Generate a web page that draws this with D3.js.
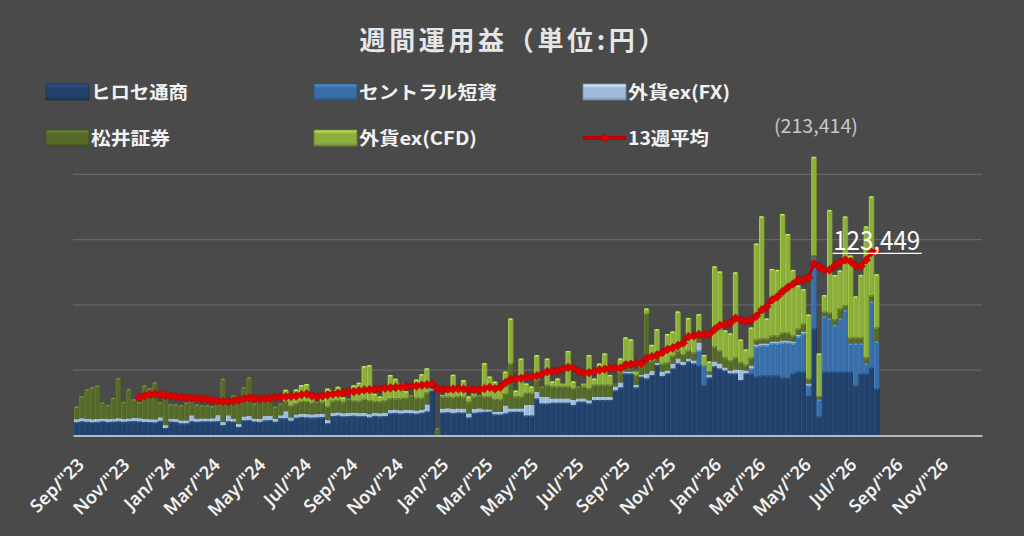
<!DOCTYPE html>
<html>
<head>
<meta charset="utf-8">
<script src="https://cdn.jsdelivr.net/npm/d3@7"></script>
<style>
  html, body { margin: 0; padding: 0; background: #4a4a4a; }
  svg { display: block; font-family: "Noto Sans CJK JP", "Noto Sans", sans-serif; }
</style>
</head>
<body>
<div id="chart"></div>
<script>
// 週間運用益 — 値は千円単位、週ごと (1本目 = 2023/08/27 の週)
const firstWeek = new Date(2023, 7, 27)

const hirose = [
  10.2, 10.8, 10.5, 10.1, 10.4, 10.9, 10.3, 10.6, 10.8, 10.5, 10.8, 11.0, 10.7, 10.4, 10.3, 10.0, 11.2, 5.7, 10.6, 10.4,
  9.3, 9.3, 10.9, 10.5, 10.8, 10.8, 10.7, 11.0, 8.0, 10.9, 10.6, 6.5, 11.5, 11.8, 10.7, 10.4, 11.5, 11.8, 10.5,
  13.2, 13.2, 11.3, 13.6, 14.2, 13.9, 13.7, 13.9, 14.1, 9.3, 14.9, 15.2, 14.6, 14.9, 15.1, 14.7, 14.9, 13.9, 15.0, 14.6,
  14.9, 17.0, 17.3, 16.8, 17.2, 17.0, 16.7, 17.4, 18.4, 34.5, 0, 17.5, 17.8, 17.2, 17.6, 17.5, 13.8, 17.3, 17.7,
  18.2, 18.2, 16.1, 16.1, 16.9, 18.2, 18.2, 18.2, 15.3, 15.3, 28.3, 24.5, 24.5, 25.1, 25.1, 25.1, 25.1, 23.4, 25.9, 25.9,
  24.5, 27.2, 27.2, 27.2, 27.2, 34.5, 36.8, 47.5, 47.5, 36.8, 45.0, 43.7, 46.3, 54.0, 45.6, 47.5, 51.3, 55.2,
  54.0, 56.7, 55.2, 53.6, 38.7, 44.4, 52.9, 51.3, 49.8, 47.5, 47.5, 42.5, 47.5, 47.5, 45.2, 46.0, 46.0, 46.0, 46.0, 44.4,
  44.4, 47.5, 49.0, 49.0, 30.6, 82.0, 14.6, 49.0, 49.0, 49.0, 49.0, 49.0, 49.0, 38.3, 47.5, 47.5, 52.1, 36.0
]
const central = [
  0, 0, 0, 0, 0, 0, 0, 0, 0, 0, 0, 0, 0, 0, 0, 0, 0, 0, 0, 0,
  0, 0, 0, 0, 0, 0, 0, 0, 0, 0, 0, 0, 0, 0, 0, 0, 0, 0, 0,
  0, 0, 0, 0, 0, 0, 0, 0, 0, 0, 0, 0, 0, 0, 0, 0, 0, 0, 0, 0,
  0, 0, 0, 0, 0, 0, 0, 0, 0, 0, 0, 0, 0, 0, 0, 0, 0, 0, 0,
  0, 0, 0, 0, 0, 0, 0, 0, 0, 0, 0, 0, 0, 0, 0, 0, 0, 0, 0, 0,
  0, 0, 0, 0, 0, 0, 0, 0, 0, 0, 0, 0, 0, 0, 0, 0, 0, 0,
  0, 0, 0, 11.5, 15.3, 0, 0, 0, 0, 0, 0, 0, 0, 3.8, 23.0, 23.0, 23.0, 24.5, 24.5, 26.8,
  26.8, 23.0, 26.8, 29.1, 7.7, 53.6, 13.0, 42.1, 40.6, 35.6, 40.6, 47.1, 21.4, 32.2, 23.0, 7.7, 50.6, 36.0
]
const fxex = [
  2.3, 2.5, 2.2, 2.4, 2.3, 2.1, 2.4, 2.3, 2.5, 2.2, 2.3, 2.4, 2.6, 2.3, 2.2, 2.4, 2.8, 2.3, 2.3, 2.2,
  2.3, 2.3, 4.6, 2.4, 2.3, 2.2, 2.5, 4.6, 2.3, 4.6, 2.3, 2.3, 3.1, 3.1, 2.3, 2.4, 3.4, 3.4, 2.3,
  2.3, 5.4, 2.5, 2.5, 2.5, 2.5, 2.5, 2.5, 2.5, 2.5, 2.5, 2.5, 2.5, 2.5, 2.5, 2.5, 2.5, 2.5, 2.5, 2.5,
  2.5, 2.5, 2.5, 2.5, 2.5, 2.5, 2.5, 2.5, 5.4, 1.1, 0, 3.1, 3.1, 3.1, 3.1, 3.1, 3.1, 3.1, 3.1,
  1.8, 1.8, 1.9, 1.9, 6.1, 2.5, 2.5, 2.5, 8.2, 8.2, 5.1, 5.1, 5.1, 3.3, 3.3, 3.3, 3.3, 3.8, 2.5, 2.5,
  2.5, 2.5, 2.5, 2.5, 2.5, 3.1, 3.8, 1.5, 1.5, 1.9, 1.5, 3.8, 3.1, 1.5, 3.4, 2.3, 3.8, 3.8,
  2.3, 2.3, 2.3, 6.1, 0, 2.3, 3.8, 3.8, 2.3, 2.3, 3.1, 7.7, 2.3, 2.3, 1.5, 1.5, 1.5, 1.5, 1.5, 1.5,
  1.5, 1.5, 1.5, 1.5, 1.5, 0, 0, 0, 0, 0, 0, 0, 0, 0, 0, 0, 0, 0
]
const matsui = [
  9.7, 16.9, 22.5, 24.5, 25.6, 12.3, 10.7, 15.9, 30.6, 13.0, 22.5, 14.3, 12.4, 25.6, 23.7, 28.3, 11.3, 25.3, 11.3, 11.3,
  11.7, 13.6, 10.9, 10.9, 10.1, 10.1, 9.3, 8.6, 33.2, 10.9, 17.8, 17.2, 22.4, 29.7, 11.5, 13.9, 13.4, 14.8, 9.3,
  9.0, 7.7, 9.2, 8.8, 9.6, 10.0, 9.0, 9.6, 9.2, 10.7, 9.2, 9.5, 8.9, 10.9, 9.2, 9.4, 10.7, 10.7, 9.0, 9.2,
  9.6, 9.2, 8.7, 9.3, 9.2, 11.5, 9.8, 9.0, 9.2, 0, 5.4, 9.2, 8.9, 9.2, 9.5, 9.1, 9.2, 9.4, 10.1,
  10.0, 10.0, 10.0, 10.0, 9.2, 34.5, 9.2, 9.2, 9.2, 9.2, 9.2, 7.9, 9.2, 9.2, 9.2, 9.2, 9.2, 9.2, 9.1, 9.2,
  9.2, 9.2, 9.2, 9.2, 9.2, 2.3, 7.7, 7.7, 7.7, 7.7, 6.1, 46.0, 7.7, 6.1, 6.1, 6.1, 6.1, 6.1,
  6.1, 6.1, 6.1, 6.1, -1.1, 2.3, 11.5, 10.0, 7.7, 7.7, 9.2, 6.1, 4.6, 6.1, 3.8, 3.8, 3.8, 4.6, 4.6, 6.1,
  6.1, 4.6, 4.6, 6.1, 3.8, 2.3, 2.3, 3.8, 4.6, 4.6, 7.7, 3.8, 4.6, 4.6, 4.6, 4.6, 4.6, 10.7
]
const cfd = [
  0, 0, 0, 0, 0, 0, 0, 0, 0, 0, 0, 0, 0, 0, 0, 0, 0, 0, 0, 0,
  0, 0, 0, 0, 0, 0, 0, 0, 0, 0, 0, 0, 0, 0, 0, 0, 0, 0, 0,
  0, 8.7, 5.3, 10.3, 12.3, 13.0, 6.5, 0, 2.7, 13.4, 8.2, 10.1, 3.2, 0, 11.6, 13.8, 25.0, 26.8, 5.5, 3.6,
  8.2, 17.6, 14.9, 11.1, 5.0, 0, 13.8, 18.0, 18.4, 0, 0, 1.3, 3.1, 17.0, 5.1, 12.8, 3.8, 2.5, 0,
  25.4, 15.1, 13.3, 6.9, 16.7, 34.4, 4.5, 29.0, 7.1, 4.8, 19.0, 0, 20.1, 3.8, 6.1, 2.2, 27.1, 5.0, 0, 2.2,
  25.4, 4.7, 16.2, 23.9, 7.4, 0, 10.7, 18.4, 16.9, 2.7, 2.5, 3.8, 12.3, 19.9, 10.3, 21.8, 18.4, 29.9,
  9.6, 24.9, 10.7, 15.7, 7.7, 7.7, 61.3, 60.5, 20.7, 20.7, 65.1, 17.2, 11.5, 23.0, 73.5, 93.5, 15.3, 50.9, 50.2, 90.8,
  75.5, 50.2, 32.9, 26.4, 49.0, 75.514, 32.9, 12.6, 78.5, 33.7, 29.1, 67.8, 62.8, 31.4, 47.9, 100.3, 75.8, 40.749
]
// 13週平均 (13本目から)
const avg13 = [
  null, null, null, null, null, null, null, null, null, null, null, null,
  29.0, 30.5, 31.4, 31.8, 31.4, 30.6, 30.3, 29.7, 29.3, 29.0,
  28.7, 28.5, 28.2, 27.8, 26.8, 26.4, 26.2, 26.0, 26.4, 27.2,
  28.2, 29.0, 28.5, 28.0, 28.2, 28.5, 29.3, 29.5, 29.7, 30.0,
  30.3, 31.3, 31.8, 30.3, 29.7, 30.3, 31.0, 31.8, 32.3, 32.8,
  33.2, 33.6, 34.2, 34.9, 35.1, 35.4, 35.8, 36.2, 36.5, 36.9,
  37.2, 37.4, 37.7, 37.9, 38.5, 38.9, 39.4, 35.6, 35.5, 35.4,
  35.6, 35.8, 35.6, 35.4, 35.1, 35.1, 36.0, 36.9, 35.8, 36.9,
  40.4, 43.0, 43.5, 43.8, 45.0, 45.0, 45.6, 47.1, 48.9, 49.3,
  49.6, 50.9, 52.2, 51.5, 49.0, 48.1, 48.1, 49.0, 50.2, 50.8,
  51.5, 51.5, 51.5, 54.0, 54.6, 55.3, 55.0, 59.1, 60.4, 61.7,
  63.6, 65.9, 67.0, 68.9, 70.9, 75.7, 76.2, 77.4, 77.2, 77.7,
  81.2, 84.3, 85.0, 86.2, 89.8, 88.5, 87.2, 88.5, 91.5, 96.1,
  98.8, 103.8, 106.3, 110.2, 113.4, 116.0, 119.1, 119.1, 120.9, 131.9,
  129.3, 126.8, 126.8, 130.1, 132.5, 134.4, 133.3, 129.8, 129.5, 134.4,
  140.3, 141.3
]
const yTicks = [50, 100, 150, 200]

const title = "週間運用益（単位:円）"
const keys = ["hirose", "central", "fxex", "matsui", "cfd"]
const names = { hirose: "ヒロセ通商", central: "セントラル短資", fxex: "外貨ex(FX)", matsui: "松井証券", cfd: "外貨ex(CFD)" }
const lineName = "13週平均"

const colors = { hirose: "#22426b", central: "#3a6ea6", fxex: "#9fbbdd", matsui: "#55692b", cfd: "#8cae3c" }

const width = 1024, height = 536

const weeks = avg13.map((_, i) => d3.timeDay.offset(firstWeek, 7 * i))
const rows = weeks.map((d, i) => ({
  date: d, hirose: hirose[i], central: central[i], fxex: fxex[i], matsui: matsui[i], cfd: cfd[i], avg: avg13[i]
}))
const total = r => keys.reduce((s, k) => s + Math.max(0, r[k]), 0)

const svg = d3.select("#chart").append("svg")
  .attr("width", width)
  .attr("height", height)

svg.append("rect").attr("width", width).attr("height", height).attr("fill", "#4a4a4a")

// グラデーション (ベベル風)
const defs = svg.append("defs")
keys.forEach(k => {
  const c = d3.color(colors[k])
  const g = defs.append("linearGradient").attr("id", "grad-" + k)
    .attr("x1", 0).attr("x2", 1).attr("y1", 0).attr("y2", 0)
  g.append("stop").attr("offset", "0%").attr("stop-color", c.brighter(0.6))
  g.append("stop").attr("offset", "28%").attr("stop-color", c)
  g.append("stop").attr("offset", "78%").attr("stop-color", c)
  g.append("stop").attr("offset", "100%").attr("stop-color", c.darker(0.6))
  const v = defs.append("linearGradient").attr("id", "vgrad-" + k)
    .attr("x1", 0).attr("x2", 0).attr("y1", 0).attr("y2", 1)
  v.append("stop").attr("offset", "0%").attr("stop-color", c.brighter(0.9))
  v.append("stop").attr("offset", "25%").attr("stop-color", c)
  v.append("stop").attr("offset", "80%").attr("stop-color", c)
  v.append("stop").attr("offset", "100%").attr("stop-color", c.darker(0.7))
})

// スケール
const x = d3.scaleTime()
  .domain([new Date(2023, 7, 22, 4), new Date(2026, 11, 21)])
  .range([73, 982])
const y = d3.scaleLinear().domain([0, 200]).range([435.5, 174.3])
const bw = x(weeks[1]) - x(weeks[0])

// グリッド線
svg.append("g")
  .selectAll("line")
  .data(yTicks)
  .join("line")
  .attr("x1", 73).attr("x2", 982)
  .attr("y1", d => y(d)).attr("y2", d => y(d))
  .attr("stroke", "#676767")
  .attr("stroke-width", 1.3)

// 積み上げ棒
const series = d3.stack().keys(keys).offset(d3.stackOffsetDiverging)(rows)

const layer = svg.append("g")
  .selectAll("g")
  .data(series)
  .join("g")
  .attr("fill", d => `url(#grad-${d.key})`)

layer.selectAll("rect")
  .data(d => d.filter(s => s[1] !== s[0]))
  .join("rect")
  .attr("x", d => x(d.data.date) - bw / 2)
  .attr("width", bw + 0.3)
  .attr("y", d => y(Math.max(d[0], d[1])))
  .attr("height", d => Math.abs(y(d[0]) - y(d[1])))

// 上端のハイライト
svg.append("g")
  .selectAll("g")
  .data(series.filter(s => s.key !== "fxex"))
  .join("g")
  .attr("fill", d => d3.color(colors[d.key]).brighter(1.0))
  .selectAll("rect")
  .data(d => d.filter(s => Math.abs(y(s[0]) - y(s[1])) > 4))
  .join("rect")
  .attr("x", d => x(d.data.date) - bw / 2 + 1.2)
  .attr("width", bw - 2.4)
  .attr("y", d => y(Math.max(d[0], d[1])))
  .attr("height", 1.4)

// X軸
const xAxis = svg.append("g")
  .attr("transform", `translate(0,${y(0)})`)
  .call(d3.axisBottom(x)
    .ticks(d3.timeMonth.every(2))
    .tickSize(0)
    .tickSizeOuter(0)
    .tickFormat(d3.timeFormat('%b/"%y')))

xAxis.select(".domain").attr("stroke", "#b4b9c2").attr("stroke-width", 2)
xAxis.selectAll("text")
  .attr("y", 0)
  .attr("dy", "0.35em")
  .attr("transform", "translate(0,26) rotate(-45)")
  .attr("text-anchor", "end")
  .attr("fill", "#f2f2f2")
  .attr("font-family", "'Noto Sans', sans-serif")
  .attr("font-weight", 600)
  .attr("font-size", 18)

// 13週平均
const avgRows = rows.filter(r => r.avg != null)
svg.append("path")
  .datum(avgRows)
  .attr("fill", "none")
  .attr("stroke", "#c00000")
  .attr("stroke-width", 3)
  .attr("d", d3.line().x(d => x(d.date)).y(d => y(d.avg)))

svg.append("g")
  .selectAll("path")
  .data(avgRows)
  .join("path")
  .attr("transform", d => `translate(${x(d.date)},${y(d.avg)}) rotate(45)`)
  .attr("d", d3.symbol(d3.symbolSquare, 38))
  .attr("fill", "#e00000")
  .attr("stroke", "#9a0000")
  .attr("stroke-width", 0.5)

// データラベル (最大・最新)
const fmt = d3.format(",")
const iMax = d3.maxIndex(rows, total)
const iLast = rows.length - 1

svg.append("text")
  .attr("x", x(rows[iMax].date) + 2)
  .attr("y", y(total(rows[iMax])) - 24)
  .attr("text-anchor", "middle")
  .attr("fill", "#c8c8c8")
  .attr("font-size", 19)
  .attr("textLength", 84)
  .attr("lengthAdjust", "spacingAndGlyphs")
  .text(`(${fmt(Math.round(total(rows[iMax]) * 1000))})`)

const lastX = x(rows[iLast].date)
const lastY = y(total(rows[iLast])) - 24
svg.append("text")
  .attr("x", lastX)
  .attr("y", lastY)
  .attr("text-anchor", "middle")
  .attr("fill", "#ffffff")
  .attr("font-size", 26)
  .attr("textLength", 87)
  .attr("lengthAdjust", "spacingAndGlyphs")
  .text(fmt(Math.round(total(rows[iLast]) * 1000)))

svg.append("line")
  .attr("x1", lastX - 44).attr("x2", lastX + 45)
  .attr("y1", lastY + 3).attr("y2", lastY + 3)
  .attr("stroke", "#ffffff")
  .attr("stroke-width", 1.2)

// 凡例
const legendItems = [
  { key: "hirose", col: 0, row: 0, w: 97 },
  { key: "central", col: 1, row: 0, w: 138 },
  { key: "fxex", col: 2, row: 0, w: 102 },
  { key: "matsui", col: 0, row: 1, w: 79 },
  { key: "cfd", col: 1, row: 1, w: 118 },
  { key: "avg", col: 2, row: 1, w: 81 }
]
const colX = [46, 314, 583]
const rowY = [92, 138]

const legend = svg.append("g")
legendItems.forEach(it => {
  const lx = colX[it.col], ly = rowY[it.row]
  if (it.key === "avg") {
    legend.append("line")
      .attr("x1", lx).attr("x2", lx + 43)
      .attr("y1", ly).attr("y2", ly)
      .attr("stroke", "#c00000").attr("stroke-width", 4)
    legend.append("path")
      .attr("transform", `translate(${lx + 21.5},${ly}) rotate(45)`)
      .attr("d", d3.symbol(d3.symbolSquare, 34))
      .attr("fill", "#e00000").attr("stroke", "#9a0000").attr("stroke-width", 0.5)
  } else {
    legend.append("rect")
      .attr("x", lx).attr("y", ly - 8)
      .attr("width", 43).attr("height", 16)
      .attr("fill", `url(#vgrad-${it.key})`)
      .attr("stroke", d3.color(colors[it.key]).darker(0.8))
      .attr("stroke-width", 0.8)
  }
  legend.append("text")
    .attr("x", lx + 45)
    .attr("y", ly + 6.5)
    .attr("fill", "#f2f2f2")
    .attr("font-size", 18)
    .attr("font-weight", "bold")
    .attr("textLength", it.w)
    .attr("lengthAdjust", "spacingAndGlyphs")
    .text(it.key === "avg" ? lineName : names[it.key])
})

// タイトル
svg.append("text")
  .attr("x", 512)
  .attr("y", 50)
  .attr("text-anchor", "middle")
  .attr("fill", "#e6e6e6")
  .attr("font-size", 26)
  .attr("font-weight", "bold")
  .attr("textLength", 305)
  .attr("lengthAdjust", "spacing")
  .text(title)
</script>
</body>
</html>
